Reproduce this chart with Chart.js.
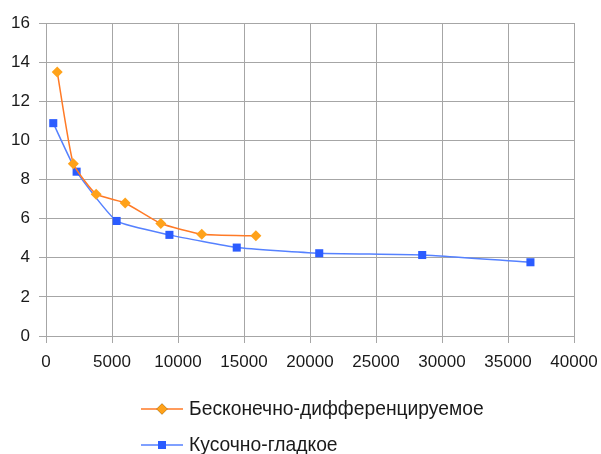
<!DOCTYPE html>
<html>
<head>
<meta charset="utf-8">
<script src="https://cdn.jsdelivr.net/npm/chart.js@4/dist/chart.umd.min.js"></script>
<style>
  html, body { margin: 0; padding: 0; background: #fff; }
  #wrap { width: 601px; height: 454px; position: relative; }
</style>
</head>
<body>
<div id="wrap"><canvas id="chart"></canvas></div>
<script>
// Series data (x, y)
const smoothX = [850, 2070, 3800, 6000, 8700, 11800, 15900];
const smoothY = [13.5, 8.8, 7.25, 6.8, 5.75, 5.2, 5.12];
const pieceX = [550, 2320, 5350, 9350, 14450, 20700, 28500, 36700];
const pieceY = [10.88, 8.4, 5.88, 5.17, 4.52, 4.23, 4.14, 3.77];
const seriesNames = ['Бесконечно-дифференцируемое', 'Кусочно-гладкое'];

const FONT = '"Liberation Sans", Arial, sans-serif';
const GRID = '#a6a6a6';

function toPoints(xs, ys) {
  return xs.map((x, i) => ({ x: x, y: ys[i] }));
}

// Legend stacked vertically, drawn below the plot
const stackedLegend = {
  id: 'stackedLegend',
  afterDraw(chart, args, opts) {
    const ctx = chart.ctx;
    ctx.save();
    chart.data.datasets.forEach((ds, i) => {
      const y = opts.top + i * opts.rowGap;
      ctx.strokeStyle = ds.borderColor;
      ctx.lineWidth = ds.borderWidth;
      ctx.beginPath();
      ctx.moveTo(opts.left, y);
      ctx.lineTo(opts.left + opts.lineLen, y);
      ctx.stroke();
      Chart.helpers.drawPoint(ctx, {
        pointStyle: ds.pointStyle,
        radius: ds.pointRadius,
        borderWidth: 0
      }, opts.left + opts.lineLen / 2, y);
      ctx.fillStyle = ds.pointBackgroundColor;
      ctx.fill();
      ctx.fillStyle = '#1a1a1a';
      ctx.font = opts.fontSize + 'px ' + FONT;
      ctx.textBaseline = 'middle';
      ctx.textAlign = 'left';
      ctx.fillText(ds.label, opts.left + opts.lineLen + 6, y + 1);
    });
    ctx.restore();
  }
};

new Chart(document.getElementById('chart'), {
  type: 'scatter',
  data: {
    datasets: [
      {
        label: seriesNames[0],
        data: toPoints(smoothX, smoothY),
        showLine: true,
        tension: 0.15,
        borderColor: '#ff7a26',
        borderWidth: 1.5,
        pointStyle: 'rectRot',
        pointRadius: 5.5,
        pointBackgroundColor: '#ffa21a',
        pointBorderWidth: 0
      },
      {
        label: seriesNames[1],
        data: toPoints(pieceX, pieceY),
        showLine: true,
        tension: 0.15,
        borderColor: '#5581ff',
        borderWidth: 1.5,
        pointStyle: 'rect',
        pointRadius: 5.7,
        pointBackgroundColor: '#2b5cff',
        pointBorderWidth: 0
      }
    ]
  },
  options: {
    responsive: true,
    maintainAspectRatio: false,
    animation: false,
    layout: { padding: { top: 23, right: 27, bottom: 78, left: 0 } },
    plugins: {
      legend: { display: false },
      tooltip: { enabled: false },
      stackedLegend: { left: 141, top: 409, rowGap: 36, lineLen: 42, fontSize: 19.3 }
    },
    scales: {
      x: {
        min: 0,
        max: 40000,
        afterFit: (s) => { s.height = 40; s.paddingLeft = 0; s.paddingRight = 0; },
        grid: { color: GRID, lineWidth: 1, tickLength: 7, tickColor: GRID },
        border: { color: GRID },
        ticks: {
          stepSize: 5000,
          color: '#1a1a1a',
          padding: 9,
          maxRotation: 0,
          font: { family: FONT, size: 17 },
          callback: (v) => String(v)
        }
      },
      y: {
        min: 0,
        max: 16,
        afterFit: (s) => { s.width = 46; s.paddingTop = 0; s.paddingBottom = 0; },
        grid: { color: GRID, lineWidth: 1, tickLength: 7, tickColor: GRID },
        border: { color: GRID },
        ticks: {
          stepSize: 2,
          color: '#1a1a1a',
          padding: 9,
          font: { family: FONT, size: 17 }
        }
      }
    }
  },
  plugins: [stackedLegend]
});
</script>
</body>
</html>
